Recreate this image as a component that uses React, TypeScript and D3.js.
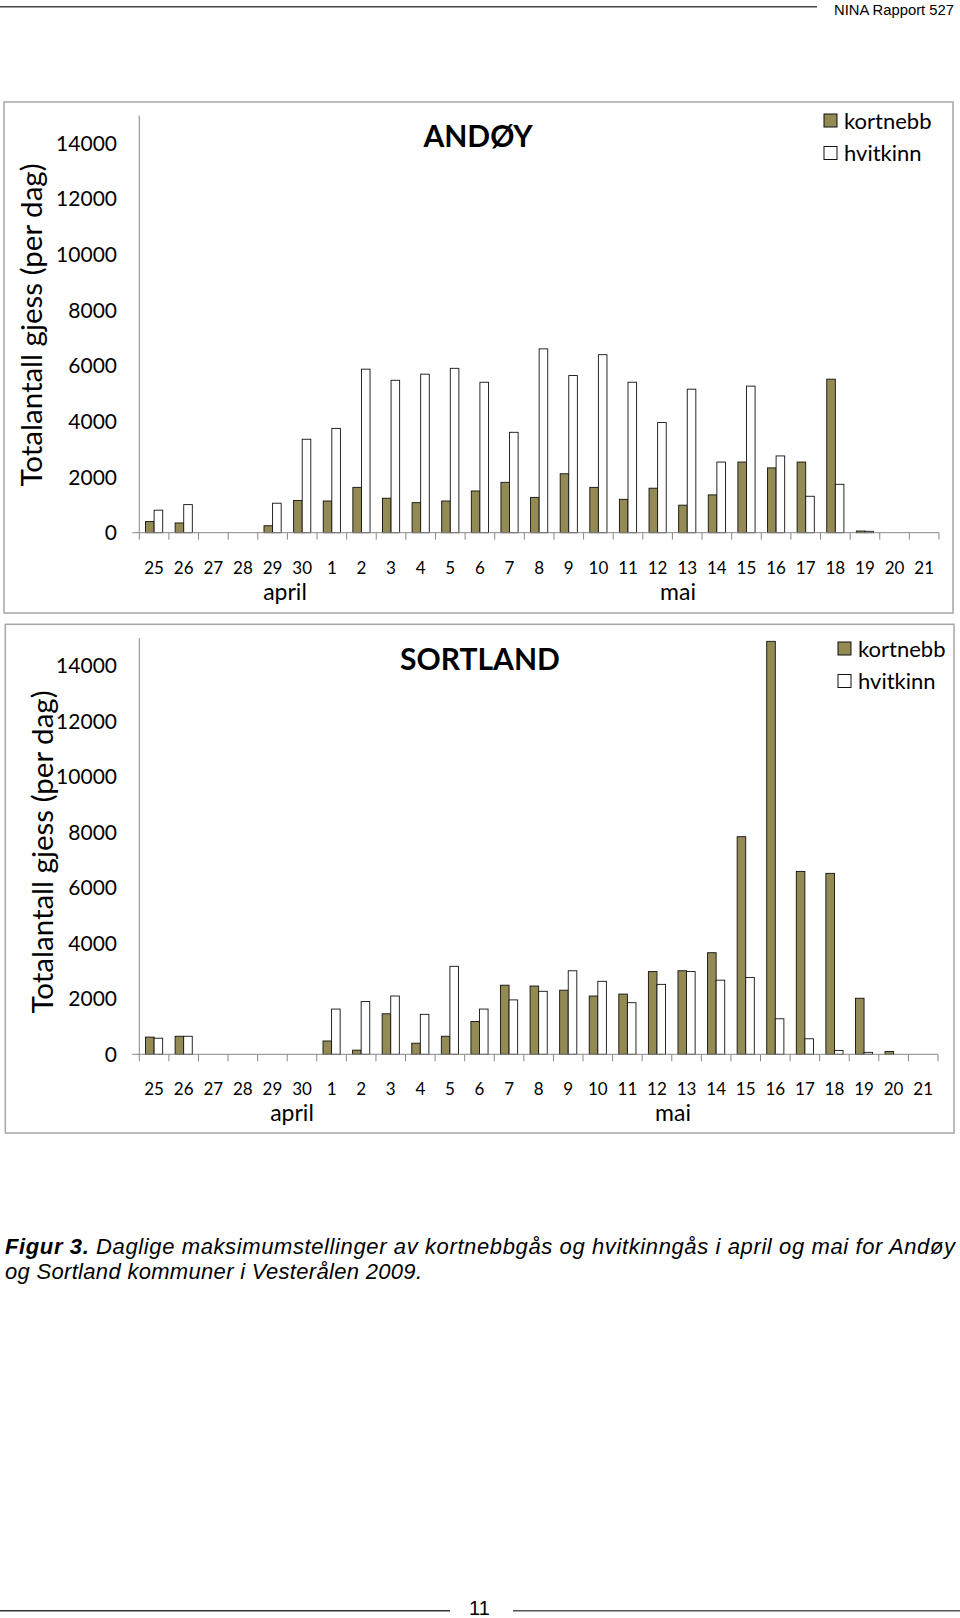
import React from "react";
import * as d3 from "d3";

const days = ["25","26","27","28","29","30","1","2","3","4","5","6","7","8","9","10","11","12","13","14","15","16","17","18","19","20","21"];
const yTicks = [0, 2000, 4000, 6000, 8000, 10000, 12000, 14000];
const seriesNames = ["kortnebb", "hvitkinn"];

const andoyKortnebb = [400, 350, 0, 0, 250, 1160, 1140, 1630, 1240, 1080, 1140, 1500, 1810, 1270, 2120, 1630, 1200, 1600, 990, 1360, 2540, 2330, 2540, 5520, 60, 0, 0];
const andoyHvitkinn = [810, 1010, 0, 0, 1060, 3360, 3750, 5880, 5480, 5700, 5910, 5410, 3610, 6610, 5650, 6400, 5410, 3960, 5160, 2540, 5270, 2760, 1310, 1740, 50, 0, 0];

const sortlandKortnebb = [620, 650, 0, 0, 0, 0, 480, 150, 1460, 400, 650, 1180, 2490, 2460, 2310, 2100, 2170, 2980, 3010, 3660, 7840, 14880, 6590, 6520, 2020, 100, 0];
const sortlandHvitkinn = [580, 650, 0, 0, 0, 0, 1630, 1900, 2100, 1440, 3170, 1630, 1960, 2270, 3010, 2630, 1860, 2520, 2980, 2670, 2770, 1280, 560, 140, 70, 0, 0];

const OLIVE = "#948a54";
const FONT = "Lato, 'Open Sans', sans-serif";
const SERIF_CAP = "'Liberation Sans', Arial, sans-serif";

type PanelProps = {
  title: string;
  kort: number[];
  hvit: number[];
  frame: { x: number; y: number; w: number; h: number };
  x0: number; x1: number; yTop: number; y0: number;
  titleX: number; titleY: number;
  legX: number; legY: number;
  aprilX: number; maiX: number; monthY: number;
  yTitleX: number; yTitleY: number;
};

function Panel(p: PanelProps) {
  const x = d3.scaleBand<string>().domain(days).range([p.x0, p.x1]).padding(0);
  const y = d3.scaleLinear().domain([0, 15000]).range([p.y0, p.yTop]);
  const bw = x.bandwidth() * 0.29;
  const series = [p.kort, p.hvit];
  return (
    <g>
      <rect x={p.frame.x} y={p.frame.y} width={p.frame.w} height={p.frame.h} fill="#fff" stroke="#a6a6a6" strokeWidth={1.5} />
      <line x1={p.x0} x2={p.x0} y1={y(15000)} y2={p.y0} stroke="#888" strokeWidth={1} />
      {yTicks.map((t) => (
        <text key={t} x={117} y={y(t) + 7.5} textAnchor="end" fontFamily={FONT} fontSize={21} fill="#000">{t}</text>
      ))}
      {series.map((vals, si) =>
        vals.map((v, i) =>
          v > 0 ? (
            <rect key={si + "-" + i}
              x={(x(days[i]) as number) + x.bandwidth() / 2 - bw + si * bw}
              y={y(v)} width={bw} height={p.y0 - y(v)}
              fill={si === 0 ? OLIVE : "#fff"} stroke="#111" strokeWidth={0.9} />
          ) : null
        )
      )}
      <line x1={p.x0 - 7} x2={p.x1} y1={p.y0} y2={p.y0} stroke="#888" strokeWidth={1} />
      {days.concat(["end"]).map((d, i) => {
        const xx = i < days.length ? (x(d) as number) : p.x1;
        return <line key={"t" + i} x1={xx} x2={xx} y1={p.y0} y2={p.y0 + 7} stroke="#888" strokeWidth={1} />;
      })}
      {days.map((d) => (
        <text key={"l" + d} x={(x(d) as number) + x.bandwidth() / 2} y={p.y0 + 41} textAnchor="middle" fontFamily={FONT} fontSize={17} fill="#000">{d}</text>
      ))}
      <text x={p.aprilX} y={p.monthY} textAnchor="middle" fontFamily={FONT} fontSize={23} fill="#000">april</text>
      <text x={p.maiX} y={p.monthY} textAnchor="middle" fontFamily={FONT} fontSize={23} fill="#000">mai</text>
      <text x={p.titleX} y={p.titleY} textAnchor="middle" fontFamily={FONT} fontWeight={700} fontSize={30} fill="#000">{p.title}</text>
      <text transform={`translate(${p.yTitleX},${p.yTitleY}) rotate(-90)`} textAnchor="middle" dominantBaseline="central" fontFamily={FONT} fontSize={29.5} fill="#000">Totalantall gjess (per dag)</text>
      {seriesNames.map((n, i) => (
        <g key={n}>
          <rect x={p.legX} y={p.legY + i * 32.5} width={13} height={13} fill={i === 0 ? OLIVE : "#fff"} stroke="#111" strokeWidth={1} />
          <text x={p.legX + 20} y={p.legY + i * 32.5 + 6} dominantBaseline="central" fontFamily={FONT} fontSize={22} fill="#000">{n}</text>
        </g>
      ))}
    </g>
  );
}

export default function App() {
  return (
    <svg width={960} height={1618} style={{ position: "absolute", left: 0, top: 0, background: "#fff" }}>
      <rect x={0} y={0} width={960} height={1618} fill="#fff" />
      <line x1={0} x2={817} y1={6.7} y2={6.7} stroke="#444" strokeWidth={1.5} />
      <text x={834} y={15} fontFamily={SERIF_CAP} fontSize={14} fill="#000" textLength={120} lengthAdjust="spacingAndGlyphs">NINA Rapport 527</text>

      <Panel title="ANDØY" kort={andoyKortnebb} hvit={andoyHvitkinn}
        frame={{ x: 4, y: 102, w: 949, h: 511 }}
        x0={139.3} x1={939} yTop={115.5} y0={532.7}
        titleX={478} titleY={147} legX={824} legY={114}
        aprilX={285} maiX={678} monthY={600}
        yTitleX={30} yTitleY={325} />

      <Panel title="SORTLAND" kort={sortlandKortnebb} hvit={sortlandHvitkinn}
        frame={{ x: 5.3, y: 624.3, w: 948.7, h: 508.7 }}
        x0={139.3} x1={938} yTop={638} y0={1054.3}
        titleX={480} titleY={670} legX={838} legY={642}
        aprilX={292} maiX={673} monthY={1121}
        yTitleX={41} yTitleY={852} />

      <text x={5} y={1254} fontFamily={SERIF_CAP} fontSize={22} fontStyle="italic" fill="#000" textLength={950} lengthAdjust="spacing">
        <tspan fontWeight={700}>Figur 3.</tspan> Daglige maksimumstellinger av kortnebbgås og hvitkinngås i april og mai for Andøy
      </text>
      <text x={5} y={1279} fontFamily={SERIF_CAP} fontSize={22} fontStyle="italic" fill="#000" textLength={417} lengthAdjust="spacing">og Sortland kommuner i Vesterålen 2009.</text>

      <line x1={0} x2={450} y1={1610.7} y2={1610.7} stroke="#333" strokeWidth={1.5} />
      <line x1={513} x2={960} y1={1610.7} y2={1610.7} stroke="#555" strokeWidth={1.5} />
      <text x={479.5} y={1615} textAnchor="middle" fontFamily={SERIF_CAP} fontSize={20} fill="#000">11</text>
    </svg>
  );
}
